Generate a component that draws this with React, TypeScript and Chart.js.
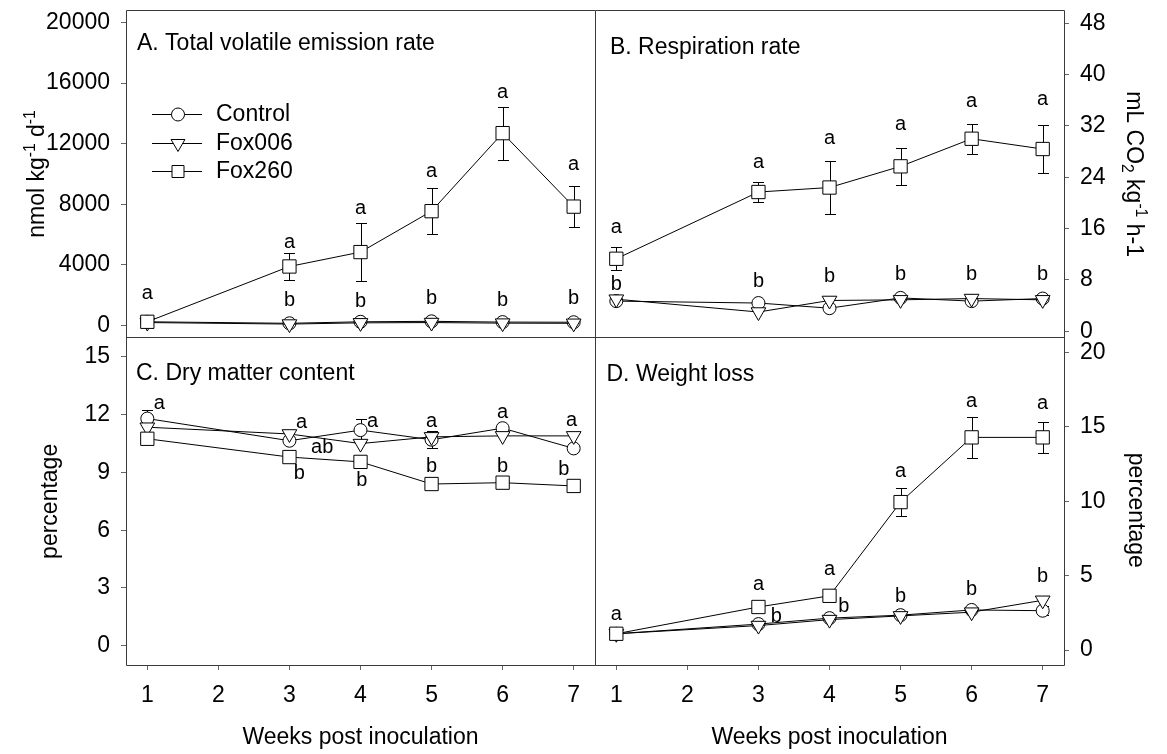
import React, { useEffect, useRef } from 'react';
import Chart from 'chart.js/auto';

const FAMILY = "'Liberation Sans', Arial, Helvetica, sans-serif";

// ---------- data ----------
const weeks = [1, 3, 4, 5, 6, 7];
const weekTicks = [1, 2, 3, 4, 5, 6, 7];
const seriesNames = ['Control', 'Fox006', 'Fox260'];

// A. Total volatile emission rate (nmol kg-1 d-1)
const emissionControl = [250, 150, 250, 280, 230, 220];
const emissionFox006 = [200, 100, 180, 200, 160, 150];
const emissionFox260 = [250, 3900, 4850, 7550, 12700, 7850];
const emissionFox260Err = [150, 900, 1900, 1500, 1750, 1350];
const emissionTicks = [0, 4000, 8000, 12000, 16000, 20000];

// B. Respiration rate (mL CO2 kg-1 h-1)
const respControl = [4.7, 4.4, 3.6, 5.2, 4.7, 5.1];
const respFox006 = [5.0, 3.0, 4.8, 4.9, 5.1, 4.9];
const respFox260 = [11.3, 21.7, 22.4, 25.7, 30.0, 28.4];
const respFox260Err = [1.8, 1.6, 4.2, 2.9, 2.35, 3.8];
const respTicks = [0, 8, 16, 24, 32, 40, 48];

// C. Dry matter content (percentage)
const dryControl = [11.8, 10.65, 11.2, 10.7, 11.3, 10.25];
const dryControlErr = [0.45, 0.1, 0.6, 0.45, 0.1, 0.1];
const dryFox006 = [11.35, 11.0, 10.5, 10.85, 10.9, 10.9];
const dryFox260 = [10.75, 9.8, 9.55, 8.4, 8.47, 8.3];
const dryTicks = [0, 3, 6, 9, 12, 15];

// D. Weight loss (percentage)
const lossControl = [1.1, 1.75, 2.15, 2.35, 2.7, 2.65];
const lossControlErr = [0.1, 0.1, 0.1, 0.1, 0.1, 0.3];
const lossFox006 = [1.1, 1.65, 2.05, 2.3, 2.55, 3.35];
const lossFox260 = [1.1, 2.9, 3.65, 9.95, 14.3, 14.3];
const lossFox260Err = [0.1, 0.1, 0.1, 0.95, 1.4, 1.05];
const lossTicks = [0, 5, 10, 15, 20];

type Letter = { x: number; y: number; t: string };
const lettersA: Letter[] = [
  { x: 1, y: 2100, t: 'a' },
  { x: 3, y: 5470, t: 'a' }, { x: 3, y: 1650, t: 'b' },
  { x: 4, y: 7730, t: 'a' }, { x: 4, y: 1580, t: 'b' },
  { x: 5, y: 10180, t: 'a' }, { x: 5, y: 1780, t: 'b' },
  { x: 6, y: 15390, t: 'a' }, { x: 6, y: 1650, t: 'b' },
  { x: 7, y: 10620, t: 'a' }, { x: 7, y: 1780, t: 'b' },
];
const lettersB: Letter[] = [
  { x: 1, y: 16.2, t: 'a' }, { x: 1, y: 7.3, t: 'b' },
  { x: 3, y: 26.3, t: 'a' }, { x: 3, y: 7.8, t: 'b' },
  { x: 4, y: 30.0, t: 'a' }, { x: 4, y: 8.6, t: 'b' },
  { x: 5, y: 32.25, t: 'a' }, { x: 5, y: 8.9, t: 'b' },
  { x: 6, y: 35.8, t: 'a' }, { x: 6, y: 8.9, t: 'b' },
  { x: 7, y: 36.1, t: 'a' }, { x: 7, y: 8.9, t: 'b' },
];
const lettersC: Letter[] = [
  { x: 1.17, y: 12.57, t: 'a' },
  { x: 3.17, y: 11.62, t: 'a' }, { x: 3.46, y: 10.3, t: 'ab' }, { x: 3.14, y: 8.96, t: 'b' },
  { x: 4.17, y: 11.66, t: 'a' }, { x: 4.02, y: 8.57, t: 'b' },
  { x: 5, y: 11.66, t: 'a' }, { x: 5, y: 9.33, t: 'b' },
  { x: 6, y: 12.1, t: 'a' }, { x: 6, y: 9.33, t: 'b' },
  { x: 6.97, y: 11.7, t: 'a' }, { x: 6.86, y: 9.13, t: 'b' },
];
const lettersD: Letter[] = [
  { x: 1, y: 2.4, t: 'a' },
  { x: 3, y: 4.41, t: 'a' }, { x: 3.25, y: 2.25, t: 'b' },
  { x: 4, y: 5.41, t: 'a' }, { x: 4.2, y: 2.92, t: 'b' },
  { x: 5, y: 11.99, t: 'a' }, { x: 5, y: 3.63, t: 'b' },
  { x: 6, y: 16.74, t: 'a' }, { x: 6, y: 4.08, t: 'b' },
  { x: 7, y: 16.56, t: 'a' }, { x: 7, y: 4.93, t: 'b' },
];

// ---------- styles ----------
const TEXT_SIZE = 23;
const markerStyles: any = {
  Control: { pointStyle: 'circle', pointRadius: 6.5, pointRotation: 0 },
  Fox006: { pointStyle: 'triangle', pointRadius: 8.5, pointRotation: 180 },
  Fox260: { pointStyle: 'rect', pointRadius: 9.4, pointRotation: 0 },
};

function makeSeries(name: string, ys: number[], xAxisID: string, yAxisID: string, errors?: number[]) {
  return {
    label: name,
    data: weeks.map((w, i) => ({ x: w, y: ys[i] })),
    xAxisID,
    yAxisID,
    errors,
    borderColor: '#000',
    backgroundColor: '#fff',
    borderWidth: 1,
    pointBackgroundColor: '#fff',
    pointBorderColor: '#000',
    pointBorderWidth: 1,
    pointHoverRadius: 0,
    tension: 0,
    fill: false,
    ...markerStyles[name],
  };
}

function xScale() {
  return {
    type: 'linear',
    position: 'bottom',
    stack: 'weeks',
    stackWeight: 1,
    min: 0.7,
    max: 7.3,
    afterBuildTicks: (s: any) => { s.ticks = weekTicks.map((v) => ({ value: v })); },
    afterFit: (s: any) => { s.height = 89; s.paddingLeft = 0; s.paddingRight = 0; },
    border: { display: false },
    grid: { display: true, drawOnChartArea: false, drawTicks: true, tickLength: 5, color: '#666', lineWidth: 1 },
    ticks: { color: '#000', font: { family: FAMILY, size: TEXT_SIZE }, padding: 12, maxRotation: 0, autoSkip: false, callback: (v: any) => String(v) },
  };
}

function yScale(position: string, stack: string, min: number, max: number, tickVals: number[], width: number, pad: number) {
  return {
    type: 'linear',
    position,
    stack,
    stackWeight: 1,
    min,
    max,
    afterBuildTicks: (s: any) => { s.ticks = tickVals.map((v) => ({ value: v })); },
    afterFit: (s: any) => { s.width = width; s.paddingTop = 0; s.paddingBottom = 0; },
    border: { display: false },
    grid: { display: true, drawOnChartArea: false, drawTicks: true, tickLength: 5, color: '#666', lineWidth: 1 },
    ticks: { color: '#000', font: { family: FAMILY, size: TEXT_SIZE }, padding: pad, autoSkip: false, callback: (v: any) => String(v) },
  };
}

// ---------- plugins ----------
const errorBarsPlugin = {
  id: 'errorBars',
  beforeDatasetsDraw(chart: any) {
    const ctx = chart.ctx;
    ctx.save();
    ctx.strokeStyle = '#000';
    ctx.lineWidth = 1;
    chart.data.datasets.forEach((ds: any) => {
      if (!ds.errors) return;
      const xs = chart.scales[ds.xAxisID];
      const ys = chart.scales[ds.yAxisID];
      ds.data.forEach((p: any, j: number) => {
        const e = ds.errors[j];
        if (!e) return;
        const x = Math.round(xs.getPixelForValue(p.x)) + 0.5;
        const y1 = Math.round(ys.getPixelForValue(p.y + e)) + 0.5;
        const y2 = Math.round(ys.getPixelForValue(p.y - e)) + 0.5;
        ctx.beginPath();
        ctx.moveTo(x, y1); ctx.lineTo(x, y2);
        ctx.moveTo(x - 5.5, y1); ctx.lineTo(x + 5.5, y1);
        ctx.moveTo(x - 5.5, y2); ctx.lineTo(x + 5.5, y2);
        ctx.stroke();
      });
    });
    ctx.restore();
  },
};

const letterPanels = [
  { x: 'xL', y: 'yA', letters: lettersA },
  { x: 'xR', y: 'yB', letters: lettersB },
  { x: 'xL', y: 'yC', letters: lettersC },
  { x: 'xR', y: 'yD', letters: lettersD },
];

type Part = { t: string; k?: 'sup' | 'sub' };
function partsWidth(ctx: CanvasRenderingContext2D, parts: Part[], size: number) {
  let w = 0;
  for (const p of parts) {
    ctx.font = `${p.k ? size * 0.68 : size}px ${FAMILY}`;
    w += ctx.measureText(p.t).width;
  }
  return w;
}
function drawParts(ctx: CanvasRenderingContext2D, parts: Part[], size: number, x0: number, y0: number) {
  let x = x0;
  for (const p of parts) {
    ctx.font = `${p.k ? size * 0.68 : size}px ${FAMILY}`;
    const dy = p.k === 'sup' ? -size * 0.4 : p.k === 'sub' ? size * 0.2 : 0;
    ctx.fillText(p.t, x, y0 + dy);
    x += ctx.measureText(p.t).width;
  }
}
function drawRotated(ctx: CanvasRenderingContext2D, parts: Part[], size: number, bx: number, cy: number, angle: number) {
  ctx.save();
  ctx.translate(bx, cy);
  ctx.rotate(angle);
  ctx.textAlign = 'left';
  ctx.textBaseline = 'alphabetic';
  const w = partsWidth(ctx, parts, size);
  drawParts(ctx, parts, size, -w / 2, 0);
  ctx.restore();
}

function drawMarker(ctx: CanvasRenderingContext2D, name: string, x: number, y: number) {
  ctx.beginPath();
  if (name === 'Control') {
    ctx.arc(x, y, 6.5, 0, Math.PI * 2);
  } else if (name === 'Fox006') {
    const r = 8;
    ctx.moveTo(x - r * 0.866, y - r / 2);
    ctx.lineTo(x + r * 0.866, y - r / 2);
    ctx.lineTo(x, y + r);
    ctx.closePath();
  } else {
    ctx.rect(x - 6, y - 6, 12, 12);
  }
  ctx.fillStyle = '#fff';
  ctx.fill();
  ctx.stroke();
}

const decorPlugin = {
  id: 'decor',
  afterDatasetsDraw(chart: any) {
    const ctx = chart.ctx;
    ctx.save();
    ctx.fillStyle = '#000';
    ctx.font = `20px ${FAMILY}`;
    ctx.textAlign = 'center';
    ctx.textBaseline = 'middle';
    for (const panel of letterPanels) {
      const xs = chart.scales[panel.x];
      const ys = chart.scales[panel.y];
      for (const l of panel.letters) {
        ctx.fillText(l.t, xs.getPixelForValue(l.x), ys.getPixelForValue(l.y));
      }
    }
    ctx.restore();
  },
  afterDraw(chart: any) {
    const ctx = chart.ctx;
    const { xL, xR, yA, yB, yC, yD } = chart.scales;
    const { left, right, top, bottom } = chart.chartArea;
    const px = (v: number) => Math.floor(v) + 0.5;

    // panel frames
    ctx.save();
    ctx.strokeStyle = '#3a3a3a';
    ctx.lineWidth = 1;
    ctx.beginPath();
    ctx.rect(px(left), px(top), px(right) - px(left), px(bottom) - px(top));
    ctx.moveTo(px(xL.right), px(top)); ctx.lineTo(px(xL.right), px(bottom));
    ctx.moveTo(px(left), px(yA.bottom)); ctx.lineTo(px(right), px(yA.bottom));
    ctx.stroke();
    ctx.restore();

    // panel titles
    ctx.save();
    ctx.fillStyle = '#000';
    ctx.font = `${TEXT_SIZE}px ${FAMILY}`;
    ctx.textAlign = 'left';
    ctx.textBaseline = 'middle';
    ctx.fillText('A. Total volatile emission rate', xL.left + 11, yA.top + 33);
    ctx.fillText('B. Respiration rate', xR.left + 15, yB.top + 37);
    ctx.fillText('C. Dry matter content', xL.left + 10, yC.top + 35.5);
    ctx.fillText('D. Weight loss', xR.left + 11.5, yD.top + 36.5);

    // x axis titles
    ctx.textAlign = 'center';
    ctx.fillText('Weeks post inoculation', (xL.left + xL.right) / 2, 738);
    ctx.fillText('Weeks post inoculation', (xR.left + xR.right) / 2, 738);
    ctx.restore();

    // y axis titles
    ctx.save();
    ctx.fillStyle = '#000';
    drawRotated(ctx, [{ t: 'nmol kg' }, { t: '-1', k: 'sup' }, { t: ' d' }, { t: '-1', k: 'sup' }], TEXT_SIZE, 44, (yA.top + yA.bottom) / 2, -Math.PI / 2);
    drawRotated(ctx, [{ t: 'percentage' }], TEXT_SIZE, 57, (yC.top + yC.bottom) / 2, -Math.PI / 2);
    drawRotated(ctx, [{ t: 'mL CO' }, { t: '2', k: 'sub' }, { t: ' kg' }, { t: '-1', k: 'sup' }, { t: ' h-1' }], TEXT_SIZE, 1127, (yB.top + yB.bottom) / 2, Math.PI / 2);
    drawRotated(ctx, [{ t: 'percentage' }], TEXT_SIZE, 1129, (yD.top + yD.bottom) / 2 + 9, Math.PI / 2);
    ctx.restore();

    // legend inside panel A
    ctx.save();
    ctx.strokeStyle = '#000';
    ctx.lineWidth = 1;
    seriesNames.forEach((name, i) => {
      const y = Math.round(yA.top + 104 + i * 28.3) + 0.5;
      const x0 = xL.left;
      ctx.beginPath();
      ctx.moveTo(x0 + 26, y); ctx.lineTo(x0 + 76, y);
      ctx.stroke();
      drawMarker(ctx, name, x0 + 52, y);
      ctx.fillStyle = '#000';
      ctx.font = `${TEXT_SIZE}px ${FAMILY}`;
      ctx.textAlign = 'left';
      ctx.textBaseline = 'middle';
      ctx.fillText(name, x0 + 90, y);
    });
    ctx.restore();
  },
};

export default function App() {
  const ref = useRef<HTMLCanvasElement>(null);
  useEffect(() => {
    const canvas = ref.current;
    if (!canvas) return;
    Chart.defaults.font.family = FAMILY;
    const chart = new Chart(canvas, {
      type: 'line',
      data: {
        datasets: [
          makeSeries('Fox260', emissionFox260, 'xL', 'yA', emissionFox260Err),
          makeSeries('Fox006', emissionFox006, 'xL', 'yA'),
          makeSeries('Control', emissionControl, 'xL', 'yA'),
          makeSeries('Fox260', respFox260, 'xR', 'yB', respFox260Err),
          makeSeries('Fox006', respFox006, 'xR', 'yB'),
          makeSeries('Control', respControl, 'xR', 'yB'),
          makeSeries('Fox260', dryFox260, 'xL', 'yC'),
          makeSeries('Fox006', dryFox006, 'xL', 'yC'),
          makeSeries('Control', dryControl, 'xL', 'yC', dryControlErr),
          makeSeries('Fox260', lossFox260, 'xR', 'yD', lossFox260Err),
          makeSeries('Fox006', lossFox006, 'xR', 'yD'),
          makeSeries('Control', lossControl, 'xR', 'yD', lossControlErr),
        ] as any,
      },
      options: {
        responsive: false,
        animation: false,
        devicePixelRatio: 1,
        events: [],
        layout: { padding: { top: 8, left: 0, right: 0, bottom: 0 } },
        plugins: { legend: { display: false }, tooltip: { enabled: false }, title: { display: false } },
        scales: {
          xL: xScale(),
          xR: xScale(),
          // left-side boxes are stacked in reverse creation order, so the lower panel's axis comes first
          yC: yScale('left', 'left', -1, 16, dryTicks, 126, 11),
          yA: yScale('left', 'left', -800, 20800, emissionTicks, 126, 11),
          yB: yScale('right', 'right', -1, 50, respTicks, 103, 11),
          yD: yScale('right', 'right', -1, 21, lossTicks, 103, 11),
        } as any,
      },
      plugins: [errorBarsPlugin, decorPlugin],
    });
    return () => chart.destroy();
  }, []);
  return (
    <div style={{ position: 'absolute', left: 0, top: 0, width: 1167, height: 754, background: '#fff' }}>
      <canvas ref={ref} width={1167} height={754} style={{ display: 'block', width: 1167, height: 754 }} />
    </div>
  );
}
